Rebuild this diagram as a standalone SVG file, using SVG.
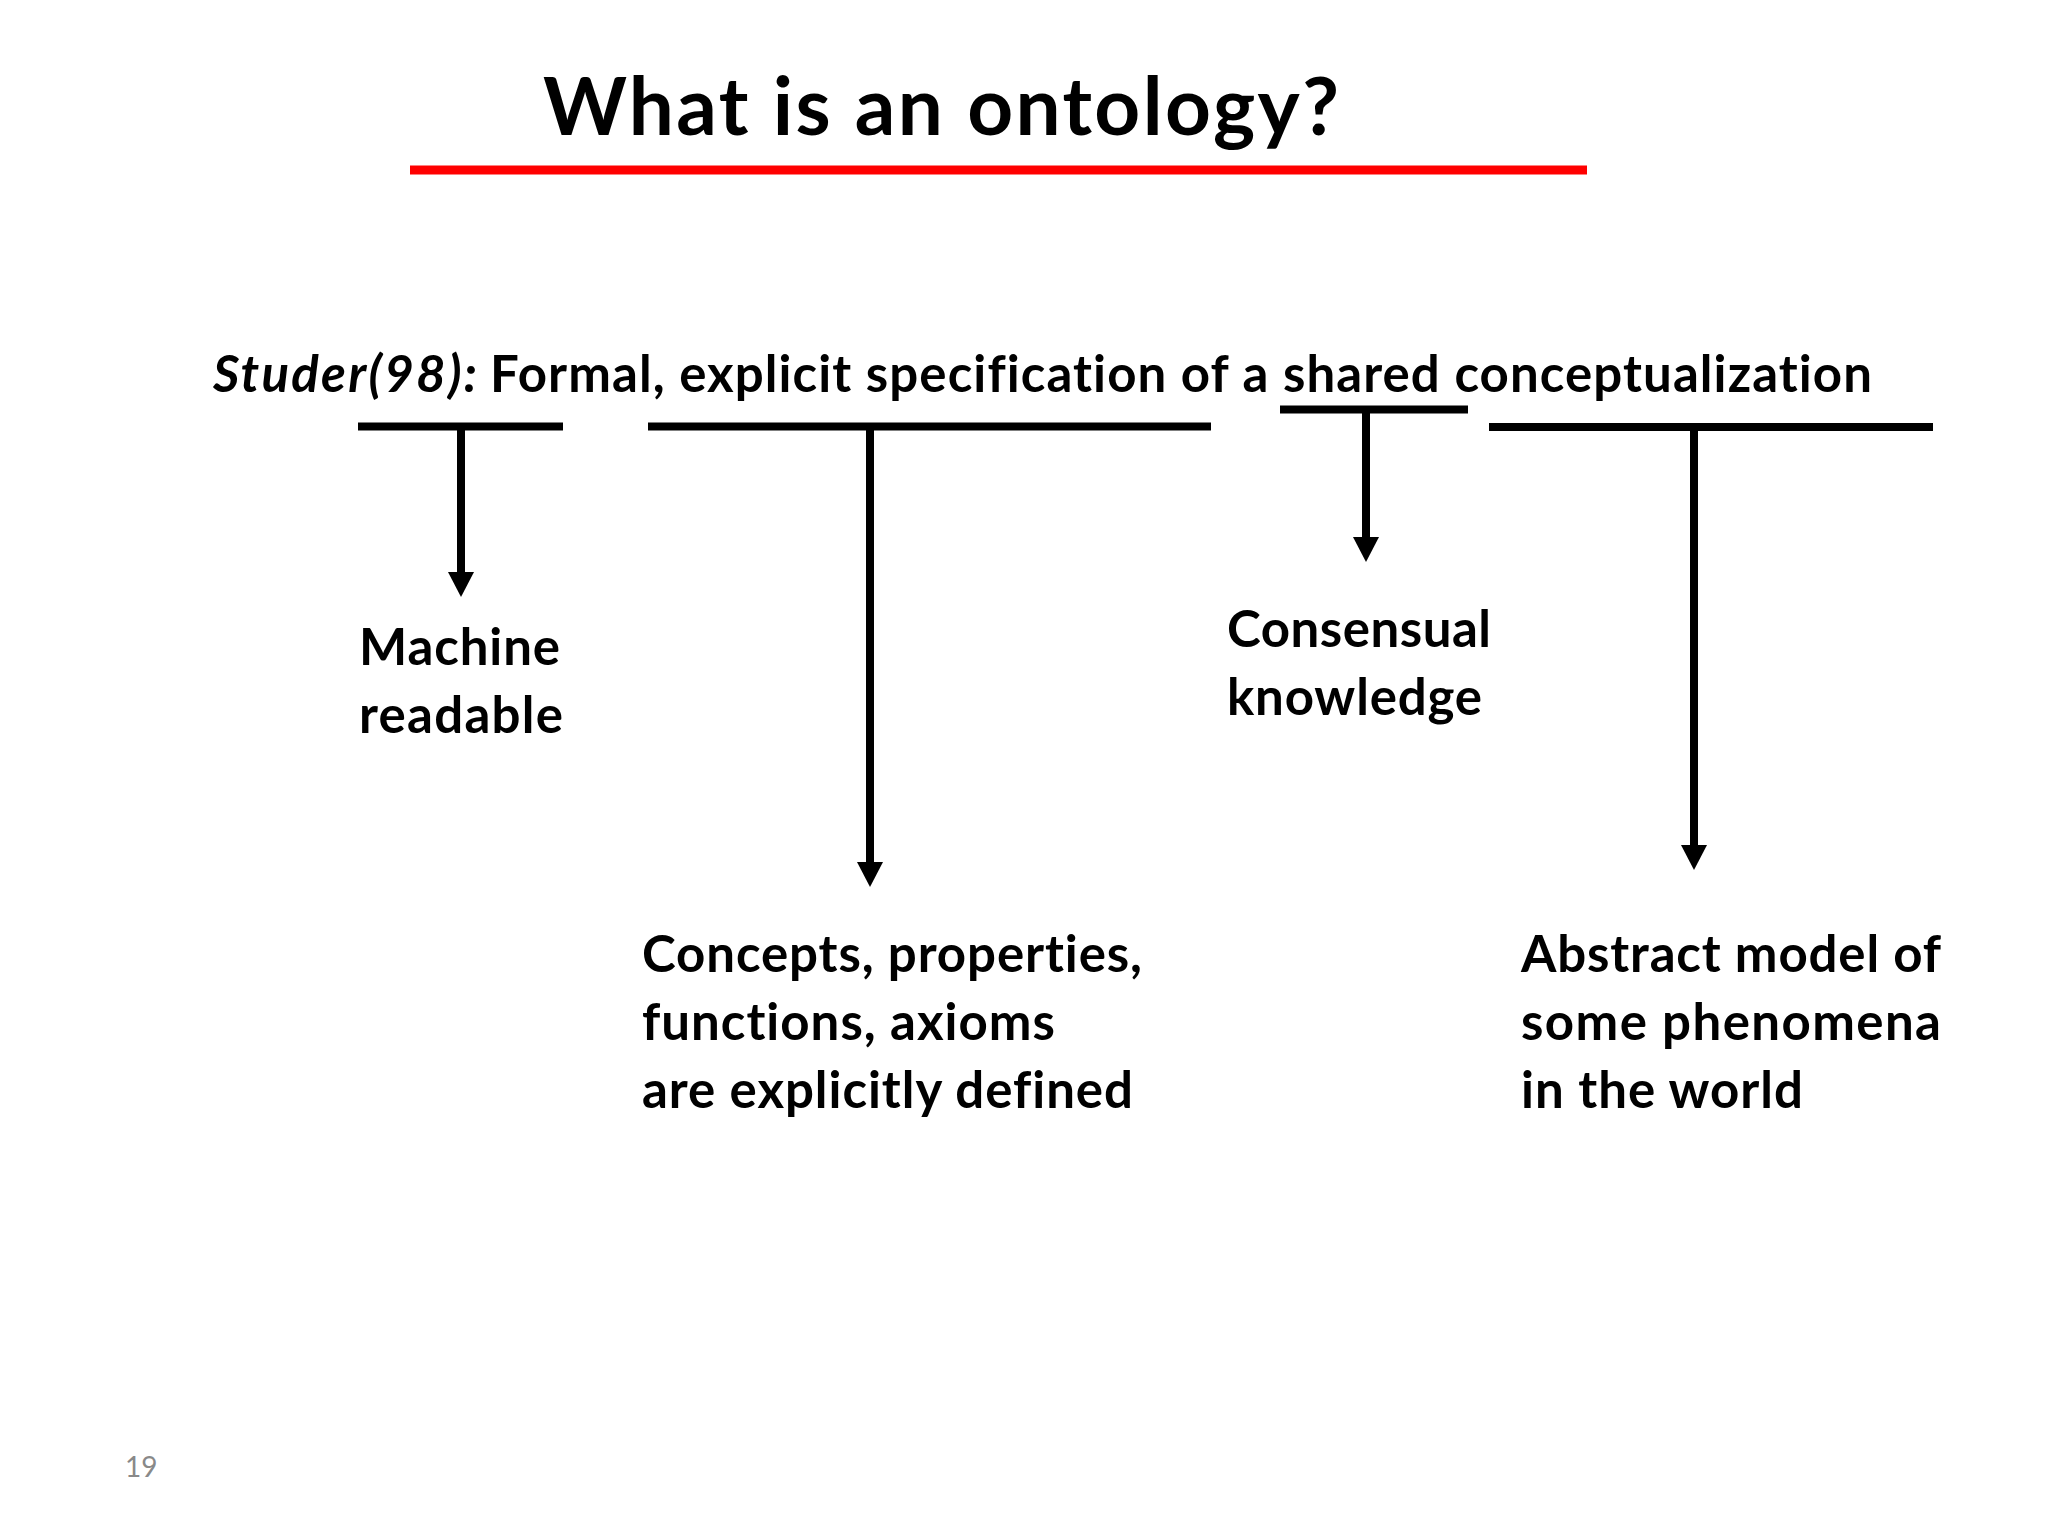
<svg xmlns="http://www.w3.org/2000/svg" width="2048" height="1536" viewBox="0 0 2048 1536">
  <style>
    text { font-family: Lato, "Open Sans", "Liberation Sans", sans-serif; font-weight: bold; fill: #000; font-variant-ligatures: none; font-feature-settings: "liga" 0, "clig" 0; }
    .title { font-size: 80px; }
    .body { font-size: 51px; }
    .ital { font-style: italic; }
    .pnum { font-size: 28px; font-weight: normal; fill: #898989; }
    .bar { stroke: #000; stroke-width: 8; fill: none; }
    .stem { stroke: #000; stroke-width: 8; fill: none; marker-end: url(#arrow); }
  </style>
  <defs>
    <marker id="arrow" markerUnits="userSpaceOnUse" viewBox="0 0 25 26" markerWidth="25" markerHeight="26" refX="0" refY="13" orient="auto">
      <path d="M0,0 L25,13 L0,26 z" fill="#000"/>
    </marker>
  </defs>
  <rect width="2048" height="1536" fill="#fff"/>

  <g id="title">
    <text class="title" x="543" y="135" textLength="796">What is an ontology?</text>
    <line x1="410" y1="170" x2="1587" y2="170" stroke="#FF0000" stroke-width="9"/>
  </g>

  <g id="definition">
    <text class="body ital" x="213" y="392" textLength="264">Studer(98):</text>
    <text class="body" x="490" y="392" textLength="1382">Formal, explicit specification of a shared conceptualization</text>
  </g>

  <g id="connectors">
    <line class="bar" x1="358" y1="426.5" x2="563" y2="426.5"/>
    <line class="stem" x1="461" y1="430" x2="461" y2="572"/>
    <line class="bar" x1="648" y1="426.5" x2="1211" y2="426.5"/>
    <line class="stem" x1="870" y1="430" x2="870" y2="862"/>
    <line class="bar" x1="1280" y1="409.5" x2="1468" y2="409.5"/>
    <line class="stem" x1="1366" y1="413" x2="1366" y2="537"/>
    <line class="bar" x1="1489" y1="427" x2="1933" y2="427"/>
    <line class="stem" x1="1694" y1="430" x2="1694" y2="845"/>
  </g>

  <g id="machine-readable">
    <text class="body" x="359" y="665" textLength="201">Machine</text>
    <text class="body" x="359" y="733" textLength="204">readable</text>
  </g>

  <g id="consensual-knowledge">
    <text class="body" x="1227" y="647" textLength="264">Consensual</text>
    <text class="body" x="1227" y="715" textLength="255">knowledge</text>
  </g>

  <g id="explicitly-defined">
    <text class="body" x="642" y="972" textLength="500">Concepts, properties,</text>
    <text class="body" x="642" y="1040" textLength="413">functions, axioms</text>
    <text class="body" x="642" y="1108" textLength="491">are explicitly defined</text>
  </g>

  <g id="abstract-model">
    <text class="body" x="1521" y="972" textLength="420">Abstract model of</text>
    <text class="body" x="1521" y="1040" textLength="420">some phenomena</text>
    <text class="body" x="1521" y="1108" textLength="282">in the world</text>
  </g>

  <g id="page-number">
    <text class="pnum" x="125" y="1477">19</text>
  </g>
</svg>
